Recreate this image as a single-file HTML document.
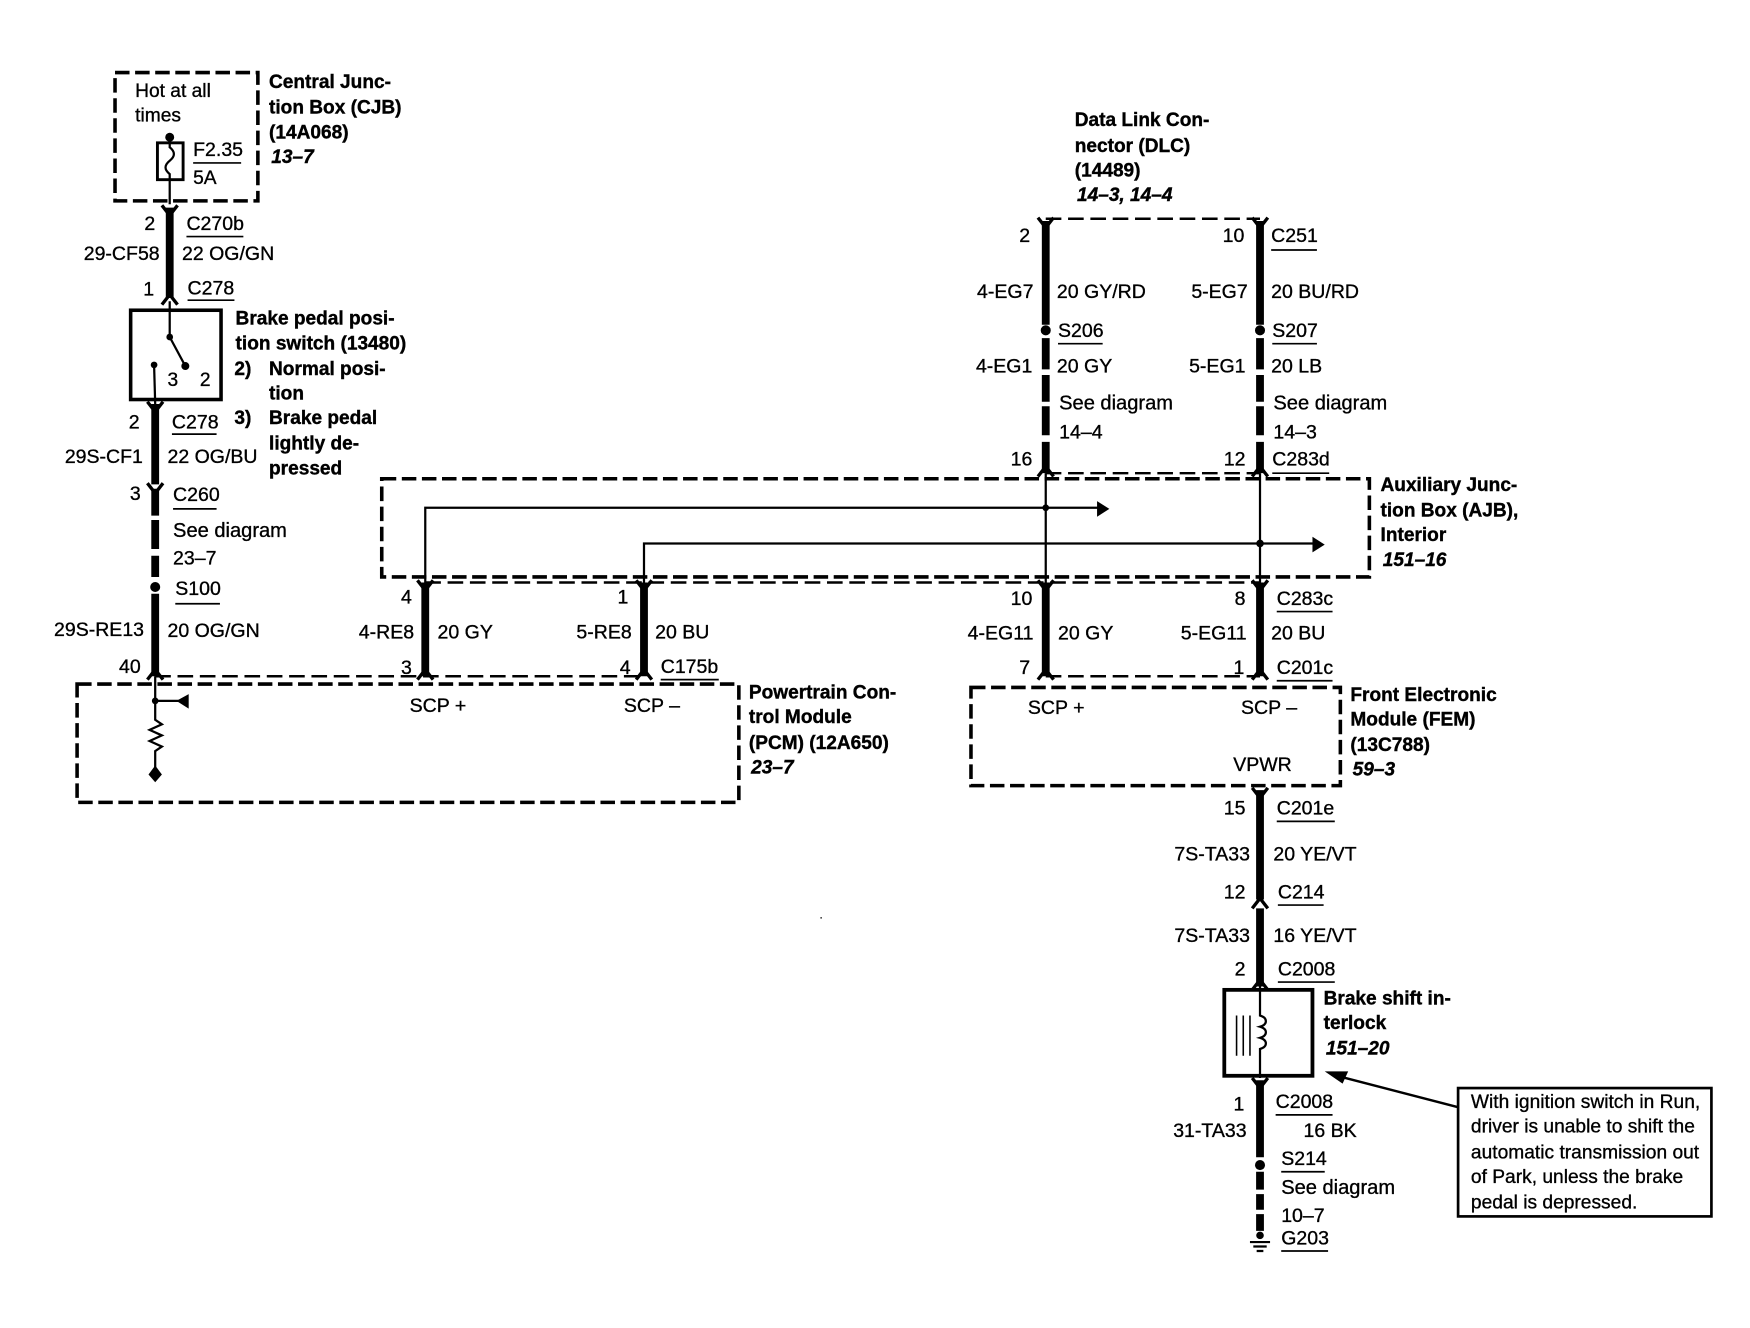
<!DOCTYPE html>
<html><head><meta charset="utf-8"><style>
html,body{margin:0;padding:0;background:#fff}
svg{display:block}
text{font-family:"Liberation Sans",sans-serif;font-size:17.5px;fill:#000;stroke:#000;stroke-width:.3}
.b{font-weight:bold;font-size:17.1px;stroke-width:.35}
.i{font-weight:bold;font-style:italic;font-size:17.1px;stroke-width:.35}
.e{text-anchor:end}
.n{font-size:17.2px}
.g{font-size:18px}
.u{stroke:#000;stroke-width:1.5;fill:none}
.w{stroke:#000;stroke-width:7;fill:none}
.h{stroke:#000;stroke-width:2;fill:none}
.d{stroke:#000;stroke-width:3.2;fill:none;stroke-dasharray:13 5}
.s{stroke:#000;stroke-width:2.2;fill:none;stroke-dasharray:14 6}
</style></head><body>
<svg xmlns="http://www.w3.org/2000/svg" width="1750" height="1328" viewBox="0 0 1568 1190">
<defs>
<path id="fd" d="M-7 -3L0 6L7 -3" fill="none" stroke="#000" stroke-width="3"/>
<path id="fu" d="M-7 3L0 -6L7 3" fill="none" stroke="#000" stroke-width="3"/>
</defs>
<rect width="1568" height="1190" fill="#fff"/>

<!-- dashed boxes -->
<rect class="d" x="103" y="65" width="128" height="115"/>
<rect class="d" x="342" y="429" width="885" height="88"/>
<rect class="d" x="69" y="613" width="593" height="106"/>
<rect class="d" x="870" y="616" width="331" height="88"/>
<path class="s" d="M937 196H1129"/>
<path class="s" d="M937 424H1129"/>
<path class="s" d="M381 522H1129"/>
<path class="s" d="M139 606H577"/>
<path class="s" d="M937 606H1129"/>

<!-- CJB fuse -->
<circle cx="152" cy="123" r="4"/>
<rect x="141" y="128" width="23" height="33" fill="none" stroke="#000" stroke-width="2.6"/>
<path class="h" d="M152 123V132C157 136 157 140 152 144C147 148 147 152 152 156V183"/>
<path class="w" d="M152 186V267"/>
<use href="#fd" x="152" y="187"/><use href="#fu" x="152" y="270"/>

<!-- Brake pedal switch -->
<rect x="117" y="278" width="81" height="80" fill="none" stroke="#000" stroke-width="3.2"/>
<path class="h" d="M152 270V302L166 328"/>
<circle cx="152" cy="302" r="3"/><circle cx="166" cy="328" r="3.6"/>
<circle cx="138" cy="327" r="3"/><path class="h" d="M138 327L139 362"/>
<path class="w" d="M139 362V434"/>
<use href="#fd" x="139" y="363"/><use href="#fd" x="139" y="436"/>
<path class="w" d="M139 438V462M139 466V492M139 498V517M139 532V606"/>
<circle cx="139" cy="526" r="4.5"/>
<use href="#fu" x="139" y="606"/>

<!-- PCM internals -->
<path class="h" d="M139 606V645L145 649L134 654L145 659L134 664L145 669L139 673V692"/>
<circle cx="139" cy="628" r="3"/>
<path class="h" d="M139 628H160"/>
<path d="M169 622V635L158 628Z"/>
<path d="M139 686L145 694L139 701L133 694Z"/>

<!-- SCP wires -->
<path class="w" d="M381 522V606M577 522V606"/>
<use href="#fd" x="381" y="523"/><use href="#fd" x="577" y="523"/>
<use href="#fu" x="381" y="606"/><use href="#fu" x="577" y="606"/>
<path class="h" d="M381 522V455H985M577 522V487H1178"/>
<path d="M983 449L994 456L983 463Z"/>
<path d="M1176 481L1187 488L1176 495Z"/>

<!-- DLC -->
<path class="w" d="M937 198V291M1129 198V291M937 303V331M1129 303V331M937 336V360M1129 336V360M937 364V390M1129 364V390M937 396V424M1129 396V424"/>
<use href="#fd" x="937" y="198"/><use href="#fd" x="1129" y="198"/>
<circle cx="937" cy="296" r="4.5"/><circle cx="1129" cy="296" r="4.5"/>
<use href="#fu" x="937" y="424"/><use href="#fu" x="1129" y="424"/>
<path class="h" d="M937 424V522M1129 424V522"/>
<circle cx="937" cy="455" r="3"/><circle cx="1129" cy="487" r="3.4"/>
<path class="w" d="M937 522V606M1129 522V606"/>
<use href="#fd" x="937" y="523"/><use href="#fd" x="1129" y="523"/>
<use href="#fu" x="937" y="606"/><use href="#fu" x="1129" y="606"/>

<!-- Lower right wire -->
<use href="#fd" x="1129" y="709"/>
<path class="w" d="M1129 708V806M1129 814V884"/>
<use href="#fu" x="1129" y="811"/><use href="#fu" x="1129" y="884"/>
<rect x="1097" y="887" width="79" height="77" fill="none" stroke="#000" stroke-width="3.4"/>
<path class="h" d="M1129 884V910C1136 912 1136 918 1129 920C1136 922 1136 928 1129 930C1136 932 1136 938 1129 940V966"/>
<path stroke="#000" stroke-width="1.4" d="M1108 910V946M1114 910V946M1120 910V946"/>
<use href="#fd" x="1129" y="969"/>
<path class="w" d="M1129 968V1037M1129 1050V1066M1129 1070V1084M1129 1088V1103"/>
<circle cx="1129" cy="1044" r="4.5"/>
<circle cx="1129" cy="1107" r="3.4"/>
<path stroke="#000" stroke-width="2" d="M1120 1113H1138M1123 1117H1135M1126 1121H1132"/>

<!-- note + arrow -->
<rect x="1306.5" y="975" width="227" height="115" fill="#fff" stroke="#000" stroke-width="2.4"/>
<path stroke="#000" stroke-width="2.2" d="M1306 992L1198 964"/>
<path d="M1187 960L1208 960L1203 971Z"/>
<path d="M735 822h1.5v1h-1.5z"/>

<!-- underlines -->
<path class="u" d="M173 146H216M167 212H218M168 269H210M154 389H194M155 456H194M157 541H197M592 609H644M1139 224H1180M948 308H988M1140 308H1180M1140 424H1191M1144 548H1194M1144 610H1194M1144 736H1196M1145 811H1186M1145 880H1196M1143 999H1194M1148 1050H1187M1148 1121H1190"/>

<!-- CJB text -->
<text x="121" y="87" class="n">Hot at all</text>
<text x="121" y="109" class="n">times</text>
<text x="173" y="140">F2.35</text>
<text x="173" y="165" class="n">5A</text>
<text x="241" y="79" class="b">Central Junc-</text>
<text x="241" y="101.5" class="b">tion Box (CJB)</text>
<text x="241" y="124" class="b">(14A068)</text>
<text x="243" y="146" class="i">13–7</text>

<text x="139" y="206" class="e">2</text>
<text x="167" y="206">C270b</text>
<text x="143" y="233" class="e">29-CF58</text>
<text x="163" y="233">22 OG/GN</text>
<text x="138" y="265" class="e">1</text>
<text x="168" y="264">C278</text>

<text x="150" y="346" class="n">3</text>
<text x="179" y="346" class="n">2</text>
<text x="211" y="291" class="b">Brake pedal posi-</text>
<text x="211" y="313" class="b">tion switch (13480)</text>
<text x="210" y="336" class="b">2)</text><text x="241" y="336" class="b">Normal posi-</text>
<text x="241" y="358" class="b">tion</text>
<text x="210" y="380" class="b">3)</text><text x="241" y="380" class="b">Brake pedal</text>
<text x="241" y="403" class="b">lightly de-</text>
<text x="241" y="425" class="b">pressed</text>

<text x="125" y="384" class="e">2</text>
<text x="154" y="384">C278</text>
<text x="128" y="415" class="e">29S-CF1</text>
<text x="150" y="415">22 OG/BU</text>
<text x="126" y="448" class="e">3</text>
<text x="155" y="449">C260</text>
<text x="155" y="481" class="g">See diagram</text>
<text x="155" y="506">23–7</text>
<text x="157" y="533">S100</text>
<text x="129" y="570" class="e">29S-RE13</text>
<text x="150" y="571">20 OG/GN</text>
<text x="126" y="603" class="e">40</text>

<!-- SCP labels -->
<text x="369" y="541" class="e">4</text>
<text x="371" y="572" class="e">4-RE8</text>
<text x="392" y="572">20 GY</text>
<text x="369" y="604" class="e">3</text>
<text x="563" y="541" class="e">1</text>
<text x="566" y="572" class="e">5-RE8</text>
<text x="587" y="572">20 BU</text>
<text x="565" y="604" class="e">4</text>
<text x="592" y="603">C175b</text>
<text x="367" y="638">SCP +</text>
<text x="559" y="638">SCP –</text>
<text x="671" y="626" class="b">Powertrain Con-</text>
<text x="671" y="648" class="b">trol Module</text>
<text x="671" y="671" class="b">(PCM) (12A650)</text>
<text x="673" y="693" class="i">23–7</text>

<!-- DLC labels -->
<text x="963" y="113" class="b">Data Link Con-</text>
<text x="963" y="136" class="b">nector (DLC)</text>
<text x="963" y="158" class="b">(14489)</text>
<text x="965" y="180" class="i">14–3, 14–4</text>
<text x="923" y="217" class="e">2</text>
<text x="1115" y="217" class="e">10</text>
<text x="1139" y="217">C251</text>
<text x="926" y="267" class="e">4-EG7</text>
<text x="947" y="267">20 GY/RD</text>
<text x="1118" y="267" class="e">5-EG7</text>
<text x="1139" y="267">20 BU/RD</text>
<text x="948" y="302">S206</text>
<text x="1140" y="302">S207</text>
<text x="925" y="334" class="e">4-EG1</text>
<text x="947" y="334">20 GY</text>
<text x="1116" y="334" class="e">5-EG1</text>
<text x="1139" y="334">20 LB</text>
<text x="949" y="367" class="g">See diagram</text>
<text x="949" y="393">14–4</text>
<text x="1141" y="367" class="g">See diagram</text>
<text x="1141" y="393">14–3</text>
<text x="925" y="417" class="e">16</text>
<text x="1116" y="417" class="e">12</text>
<text x="1140" y="417">C283d</text>
<text x="1237" y="440" class="b">Auxiliary Junc-</text>
<text x="1237" y="463" class="b">tion Box (AJB),</text>
<text x="1237" y="485" class="b">Interior</text>
<text x="1239" y="507" class="i">151–16</text>

<text x="925" y="542" class="e">10</text>
<text x="1116" y="542" class="e">8</text>
<text x="1144" y="542">C283c</text>
<text x="926" y="573" class="e">4-EG11</text>
<text x="948" y="573">20 GY</text>
<text x="1117" y="573" class="e">5-EG11</text>
<text x="1139" y="573">20 BU</text>
<text x="923" y="604" class="e">7</text>
<text x="1115" y="604" class="e">1</text>
<text x="1144" y="604">C201c</text>
<text x="921" y="640">SCP +</text>
<text x="1112" y="640">SCP –</text>
<text x="1105" y="691">VPWR</text>
<text x="1210" y="628" class="b">Front Electronic</text>
<text x="1210" y="650" class="b">Module (FEM)</text>
<text x="1210" y="673" class="b">(13C788)</text>
<text x="1212" y="695" class="i">59–3</text>

<text x="1116" y="730" class="e">15</text>
<text x="1144" y="730">C201e</text>
<text x="1120" y="771" class="e">7S-TA33</text>
<text x="1141" y="771">20 YE/VT</text>
<text x="1116" y="805" class="e">12</text>
<text x="1145" y="805">C214</text>
<text x="1120" y="844" class="e">7S-TA33</text>
<text x="1141" y="844">16 YE/VT</text>
<text x="1116" y="874" class="e">2</text>
<text x="1145" y="874">C2008</text>
<text x="1186" y="900" class="b">Brake shift in-</text>
<text x="1186" y="922" class="b">terlock</text>
<text x="1188" y="945" class="i">151–20</text>
<text x="1115" y="995" class="e">1</text>
<text x="1143" y="993">C2008</text>
<text x="1117" y="1019" class="e">31-TA33</text>
<text x="1168" y="1019">16 BK</text>
<text x="1148" y="1044">S214</text>
<text x="1148" y="1070" class="g">See diagram</text>
<text x="1148" y="1095">10–7</text>
<text x="1148" y="1115">G203</text>

<text x="1318" y="993" class="n">With ignition switch in Run,</text>
<text x="1318" y="1015" class="n">driver is unable to shift the</text>
<text x="1318" y="1038" class="n">automatic transmission out</text>
<text x="1318" y="1060" class="n">of Park, unless the brake</text>
<text x="1318" y="1083" class="n">pedal is depressed.</text>
</svg>
</body></html>
